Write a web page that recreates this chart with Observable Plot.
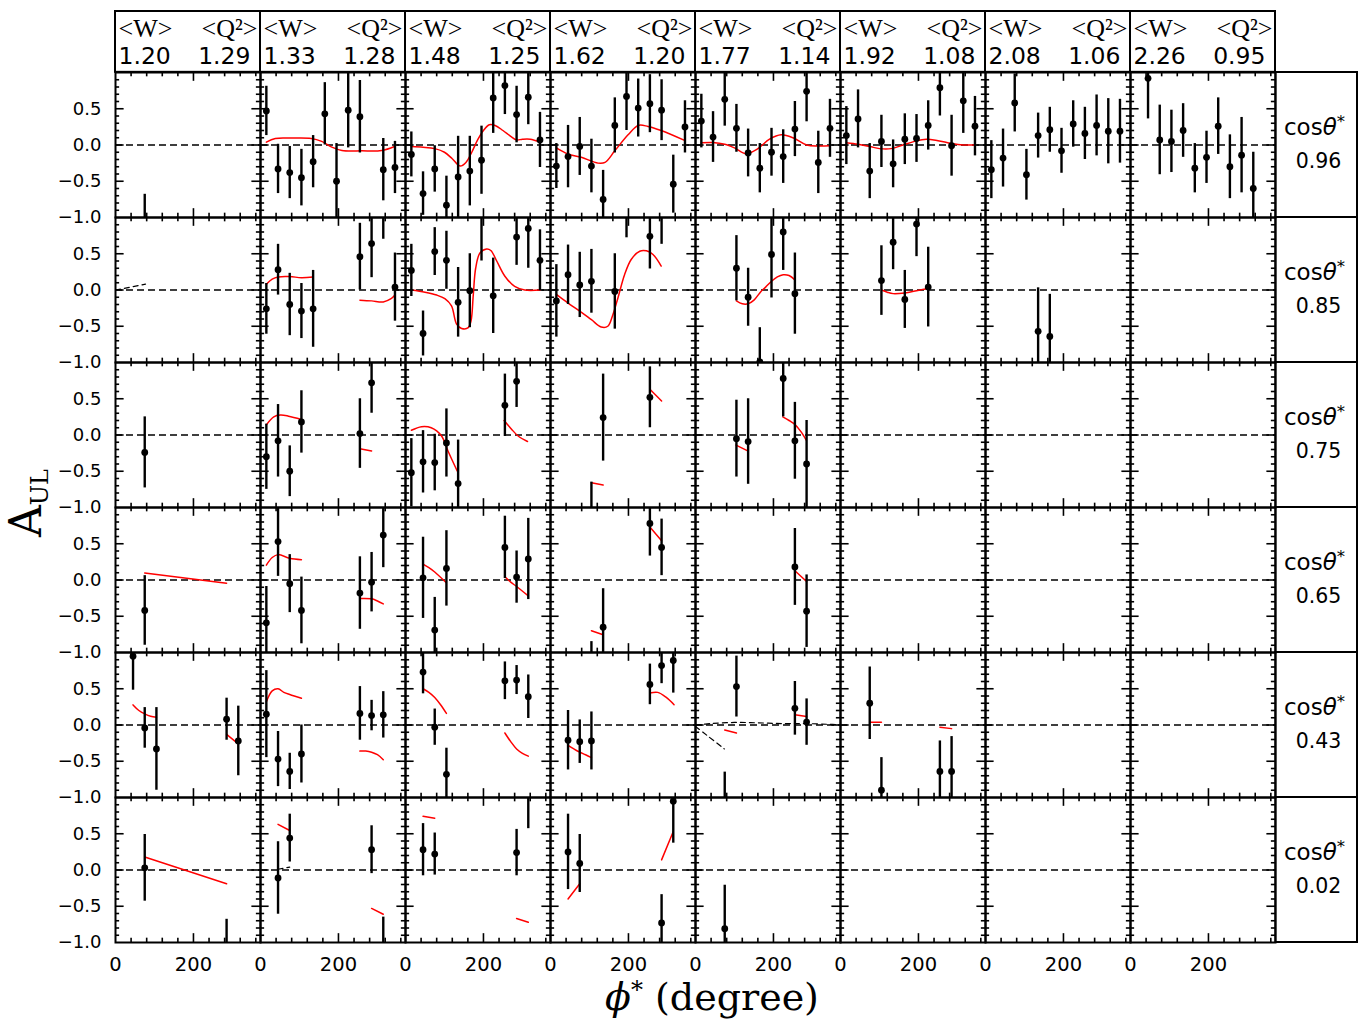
<!DOCTYPE html>
<html><head><meta charset="utf-8">
<script src="https://cdn.jsdelivr.net/npm/d3@7"></script>
<script src="https://cdn.jsdelivr.net/npm/@observablehq/plot@0.6"></script>
<style>html,body{margin:0;padding:0;background:#fff;overflow:hidden}</style>
</head><body><div id="chart"></div>
<script>
// ---- categories / labels ----
const W = ["1.20","1.33","1.48","1.62","1.77","1.92","2.08","2.26"];
const Q2 = ["1.29","1.28","1.25","1.20","1.14","1.08","1.06","0.95"];
const COS = ["0.96","0.85","0.75","0.65","0.43","0.02"];
const xTickLabels = [0, 200];
const yTickLabels = [-1, -0.5, 0, 0.5];
const xMajorTicks = [200];
const xMinorTicks = [40, 80, 120, 160, 240, 280, 320, 360];
const yMajorTicks = [-0.5, 0, 0.5];
const yMinorTicks = [-0.9,-0.8,-0.7,-0.6,-0.4,-0.3,-0.2,-0.1,0.1,0.2,0.3,0.4,0.6,0.7,0.8,0.9];

// ---- data points: [W column, phi*, A_UL, error] ----
const data_096 = [
 [0,75,-1.20,0.52],
 [1,15,0.47,0.34],[1,45,-0.33,0.34],[1,75,-0.38,0.36],[1,105,-0.45,0.39],[1,135,-0.23,0.36],[1,165,0.43,0.43],[1,195,-0.50,0.52],[1,225,0.48,0.52],[1,255,0.39,0.50],[1,315,-0.34,0.43],[1,345,-0.31,0.36],
 [2,15,-0.13,0.31],[2,45,-0.67,0.30],[2,75,-0.33,0.32],[2,105,-0.83,0.40],[2,135,-0.44,0.56],[2,165,-0.36,0.48],[2,195,-0.21,0.47],[2,225,0.65,0.49],[2,255,0.82,0.40],[2,285,0.42,0.39],[2,315,0.66,0.38],[2,345,0.07,0.38],
 [3,15,-0.29,0.31],[3,45,-0.16,0.43],[3,75,-0.02,0.40],[3,105,-0.29,0.37],[3,135,-0.75,0.40],[3,165,0.27,0.38],[3,195,0.67,0.47],[3,225,0.51,0.40],[3,255,0.57,0.40],[3,285,0.48,0.42],[3,315,-0.54,0.40],[3,345,0.25,0.36],
 [4,15,0.33,0.37],[4,45,0.11,0.35],[4,75,0.63,0.37],[4,105,0.23,0.33],[4,135,-0.11,0.33],[4,165,-0.32,0.34],[4,195,-0.10,0.33],[4,225,-0.16,0.37],[4,255,0.22,0.38],[4,285,0.74,0.42],[4,315,-0.24,0.43],[4,345,0.23,0.40],
 [5,15,0.13,0.40],[5,45,0.36,0.40],[5,75,-0.36,0.38],[5,105,0.05,0.36],[5,135,-0.26,0.33],[5,165,0.08,0.35],[5,195,0.09,0.33],[5,225,0.27,0.34],[5,255,0.79,0.39],[5,285,-0.01,0.42],[5,315,0.61,0.45],[5,345,0.26,0.41],
 [6,15,-0.34,0.40],[6,45,-0.18,0.40],[6,75,0.58,0.40],[6,105,-0.41,0.35],[6,135,0.13,0.31],[6,165,0.21,0.31],[6,195,-0.08,0.31],[6,225,0.29,0.32],[6,255,0.16,0.36],[6,285,0.27,0.42],[6,315,0.19,0.45],[6,345,0.19,0.44],
 [7,45,0.92,0.56],[7,75,0.07,0.48],[7,105,0.05,0.43],[7,135,0.20,0.37],[7,165,-0.32,0.34],[7,195,-0.17,0.36],[7,225,0.26,0.39],[7,255,-0.30,0.44],[7,285,-0.14,0.52],[7,315,-0.60,0.50]
];
const data_085 = [
 [1,15,-0.26,0.35],[1,45,0.28,0.35],[1,75,-0.20,0.43],[1,105,-0.29,0.38],[1,135,-0.26,0.53],[1,255,0.46,0.46],[1,285,0.64,0.47],[1,315,1.20,0.50],[1,345,0.04,0.47],
 [2,15,0.27,0.36],[2,45,-0.60,0.31],[2,75,0.53,0.33],[2,105,0.41,0.40],[2,135,-0.17,0.48],[2,165,-0.01,0.51],[2,195,1.05,0.65],[2,225,-0.08,0.52],[2,285,0.73,0.39],[2,315,0.85,0.55],[2,345,0.41,0.42],
 [3,15,-0.15,0.50],[3,45,0.21,0.41],[3,75,0.07,0.45],[3,105,0.12,0.44],[3,165,-0.02,0.52],[3,195,1.20,0.48],[3,255,0.74,0.45],[3,285,1.10,0.47],
 [4,105,0.30,0.45],[4,135,-0.10,0.40],[4,165,-0.99,0.47],[4,195,0.49,0.60],[4,225,0.80,0.53],[4,255,-0.05,0.56],
 [5,105,0.13,0.48],[5,135,0.66,0.38],[5,165,-0.13,0.40],[5,195,0.91,0.45],[5,225,0.04,0.55],
 [6,135,-0.57,0.60],[6,165,-0.64,0.58]
];
const data_075 = [
 [0,75,-0.24,0.49],
 [1,15,-0.30,0.45],[1,45,-0.08,0.50],[1,75,-0.50,0.35],[1,105,0.18,0.43],[1,255,0.02,0.48],[1,285,0.72,0.42],
 [2,15,-0.52,0.47],[2,45,-0.37,0.43],[2,75,-0.38,0.39],[2,105,-0.11,0.47],[2,135,-0.67,0.60],[2,255,0.41,0.43],[2,285,0.74,0.36],
 [3,105,-1.20,0.55],[3,135,0.24,0.60],[3,255,0.52,0.42],
 [4,105,-0.05,0.53],[4,135,-0.09,0.59],[4,225,0.78,0.53],[4,255,-0.08,0.53],[4,285,-0.40,0.60]
];
const data_065 = [
 [0,75,-0.42,0.48],
 [1,15,-0.59,0.50],[1,45,0.53,0.48],[1,75,-0.05,0.40],[1,105,-0.42,0.46],[1,255,-0.18,0.50],[1,285,-0.03,0.41],[1,315,0.62,0.45],
 [2,45,0.03,0.56],[2,75,-0.69,0.45],[2,105,0.16,0.52],[2,255,0.45,0.43],[2,285,0.04,0.36],[2,315,0.29,0.56],
 [3,105,-1.30,0.45],[3,135,-0.65,0.53],[3,255,0.78,0.45],[3,285,0.45,0.39],
 [4,255,0.18,0.53],[4,285,-0.43,0.50]
];
const data_043 = [
 [0,45,0.95,0.47],[0,75,-0.04,0.28],[0,105,-0.33,0.57],[0,285,0.08,0.29],[0,315,-0.22,0.48],
 [1,15,0.15,0.60],[1,45,-0.47,0.38],[1,75,-0.64,0.25],[1,105,-0.40,0.40],[1,255,0.16,0.37],[1,285,0.13,0.21],[1,315,0.14,0.32],
 [2,45,0.73,0.30],[2,75,-0.03,0.25],[2,105,-0.68,0.36],[2,255,0.61,0.26],[2,285,0.62,0.20],[2,315,0.39,0.30],
 [3,45,-0.21,0.41],[3,75,-0.23,0.30],[3,105,-0.22,0.40],[3,255,0.56,0.28],[3,285,0.82,0.25],[3,315,0.89,0.45],
 [4,75,-1.20,0.55],[4,105,0.53,0.42],[4,255,0.23,0.37],[4,285,0.04,0.32],
 [5,75,0.30,0.50],[5,105,-0.90,0.45],[5,255,-0.64,0.42],[5,285,-0.64,0.48]
];
const data_002 = [
 [0,75,0.03,0.46],[0,285,-1.20,0.52],
 [1,45,-0.11,0.50],[1,75,0.44,0.33],[1,285,0.28,0.33],[1,315,-1.15,0.50],
 [2,45,0.28,0.36],[2,75,0.22,0.29],[2,285,0.24,0.32],[2,315,1.05,0.48],
 [3,45,0.25,0.52],[3,75,0.09,0.40],[3,285,-0.73,0.39],[3,315,0.95,0.58],
 [4,75,-0.81,0.60]
];

// ---- model curves (red): [W column, [[phi*, A_UL], ...]] one entry per segment ----
const model_096 = [
 [1, [[15,0.04],[38,0.09],[80,0.095],[130,0.09],[157,0.05],[183,-0.03],[209,-0.075],[260,-0.08],[311,-0.075],[344,-0.02]]],
 [2, [[15,-0.02],[45,-0.03],[75,-0.05],[100,-0.1],[120,-0.19],[140,-0.29],[155,-0.24],[170,-0.1],[185,0.07],[200,0.2],[215,0.28],[230,0.27],[250,0.2],[270,0.12],[285,0.07],[300,0.08],[320,0.08],[345,0.04]]],
 [3, [[15,-0.04],[45,-0.125],[79,-0.17],[122,-0.25],[140,-0.24],[165,-0.08],[199,0.14],[225,0.27],[250,0.256],[284,0.2],[344,0.063]]],
 [4, [[15,0.03],[45,0.035],[75,0.01],[100,-0.04],[130,-0.12],[160,-0.05],[190,0.08],[220,0.14],[250,0.1],[285,0.0],[315,-0.015],[345,-0.01]]],
 [5, [[15,0.03],[45,0.01],[75,-0.02],[100,-0.05],[130,-0.05],[160,0.0],[190,0.05],[220,0.08],[250,0.06],[285,0.02],[315,0.0],[345,0.0]]]
];
const model_085 = [
 [1, [[15,0.08],[30,0.15],[45,0.18],[75,0.185],[105,0.17],[135,0.18]]],
 [1, [[255,-0.14],[285,-0.15],[315,-0.165],[335,-0.12],[345,-0.07]]],
 [2, [[15,0.0],[50,-0.03],[80,-0.07],[101,-0.12],[118,-0.22],[131,-0.47],[144,-0.53],[161,-0.52],[168,-0.43],[174,-0.06],[180,0.3],[191,0.51],[208,0.566],[219,0.545],[234,0.4],[255,0.19],[280,0.05],[306,0.0],[345,0.0]]],
 [3, [[15,-0.06],[45,-0.18],[75,-0.29],[105,-0.41],[130,-0.51],[147,-0.5],[160,-0.34],[173,-0.11],[190,0.21],[207,0.42],[229,0.535],[246,0.54],[263,0.49],[284,0.33]]],
 [4, [[105,-0.15],[120,-0.19],[135,-0.19],[150,-0.14],[168,-0.02],[180,0.04],[195,0.12],[210,0.18],[225,0.21],[240,0.2],[255,0.14]]],
 [5, [[105,0.0],[120,-0.03],[135,-0.05],[165,-0.04],[195,-0.01],[225,0.02]]]
];
const model_075 = [
 [1, [[15,0.14],[34,0.25],[51,0.275],[72,0.26],[105,0.215]]],
 [1, [[255,-0.19],[285,-0.22]]],
 [2, [[15,0.065],[41,0.115],[66,0.1],[92,-0.01],[109,-0.22],[133,-0.5]]],
 [2, [[253,0.2],[272,0.08],[289,-0.014],[313,-0.09]]],
 [3, [[105,-0.66],[135,-0.69]]],
 [3, [[255,0.63],[285,0.47]]],
 [4, [[104,-0.14],[134,-0.22]]],
 [4, [[224,0.25],[240,0.2],[254,0.15],[270,0.05],[284,-0.07]]]
];
const model_065 = [
 [0, [[75,0.095],[285,-0.045]]],
 [1, [[15,0.205],[30,0.31],[45,0.35],[75,0.3],[105,0.28]]],
 [1, [[255,-0.255],[285,-0.26],[300,-0.29],[315,-0.33]]],
 [2, [[45,0.22],[60,0.17],[75,0.11],[104,-0.035]]],
 [2, [[255,0.044],[270,-0.03],[285,-0.09],[315,-0.22]]],
 [3, [[105,-0.7],[135,-0.755]]],
 [3, [[255,0.73],[285,0.54]]],
 [4, [[255,0.127],[285,-0.02]]]
];
const model_043 = [
 [0, [[45,0.277],[60,0.2],[75,0.153],[90,0.12],[105,0.106]]],
 [0, [[285,-0.13],[315,-0.26]]],
 [1, [[15,0.32],[30,0.47],[45,0.5],[60,0.45],[75,0.42],[105,0.37]]],
 [1, [[255,-0.36],[270,-0.36],[285,-0.375],[300,-0.41],[315,-0.48]]],
 [2, [[45,0.5],[60,0.45],[75,0.38],[90,0.28],[105,0.16]]],
 [2, [[255,-0.11],[270,-0.23],[285,-0.33],[300,-0.39],[315,-0.43]]],
 [3, [[45,-0.28],[60,-0.33],[75,-0.375],[90,-0.41],[105,-0.45]]],
 [3, [[255,0.44],[275,0.45],[297,0.38],[317,0.28]]],
 [4, [[75,-0.07],[105,-0.11]]],
 [4, [[255,0.14],[285,0.116]]],
 [5, [[75,0.037],[105,0.037]]],
 [5, [[255,-0.03],[285,-0.05]]]
];
const model_002 = [
 [0, [[75,0.18],[285,-0.19]]],
 [1, [[45,0.63],[75,0.545]]],
 [1, [[285,-0.53],[315,-0.61]]],
 [2, [[45,0.74],[75,0.715]]],
 [2, [[285,-0.67],[315,-0.72]]],
 [3, [[45,-0.4],[75,-0.19]]],
 [3, [[285,0.14],[315,0.53]]]
];
// ---- black dashed curves: [cos row, W column, [[phi*, A_UL], ...]] ----
const dashed = [
 [1, 0, [[0,0.0],[77,0.08]]],
 [4, 4, [[0,0.0],[40,0.02],[100,0.035],[160,0.03],[220,0.02],[280,0.02],[340,0.01],[372,0.005]]],
 [4, 4, [[0,-0.02],[31,-0.15],[74,-0.33]]],
 [5, 1, [[45,0.01],[75,0.04]]]
];

// ---- tables ----
const rowsPts = [data_096, data_085, data_075, data_065, data_043, data_002];
const rowsModel = [model_096, model_085, model_075, model_065, model_043, model_002];
const points = rowsPts.flatMap((arr, row) => arr.map(([col, phi, A, err]) => ({row, col, phi, A, err})));
const model = rowsModel.flatMap((segs, row) => segs.flatMap(([col, pts], s) => pts.map(([phi, A]) => ({row, col, seg: `${row}-${col}-${s}`, phi, A}))));
const dash = dashed.flatMap(([row, col, pts], s) => pts.map(([phi, A]) => ({row, col, seg: s, phi, A})));
const cells = d3.cross(d3.range(W.length), d3.range(COS.length)).map(([col, row]) => ({col, row}));
const header = W.map((w, col) => ({col, row: 0, w, q: Q2[col]}));
const rightLab = COS.map((c, row) => ({col: W.length - 1, row, c}));
const yLab = d3.cross(d3.range(COS.length), yTickLabels).map(([row, v]) => ({row, col: 0, v}));
const xLab = d3.cross(d3.range(W.length), xTickLabels).map(([col, v]) => ({col, row: COS.length - 1, v}));

const width = 1364, height = 1019;
const mL = 113, mR = 88, mT = 71, mB = 77;
const fw = (width - mL - mR) / W.length;
const fh = (height - mT - mB) / COS.length;
const majorLen = 9, minorLen = 4.5;
const tickW = 1.6;
const fmt = d3.format(".1f");

const svg = Plot.plot({
  width, height,
  marginLeft: mL, marginRight: mR, marginTop: mT, marginBottom: mB,
  style: {fontFamily: "DejaVu Sans", background: "white", color: "black"},
  fx: {domain: d3.range(W.length), padding: 0, axis: null},
  fy: {domain: d3.range(COS.length), padding: 0, axis: null},
  x: {domain: [0, 372], axis: null},
  y: {domain: [-1, 1], axis: null},
  marks: [
    Plot.ruleY(cells, {fx: "col", fy: "row", y: () => 0, stroke: "black", strokeWidth: 1.3, strokeDasharray: "7,4"}),
    Plot.line(dash, {fx: "col", fy: "row", x: "phi", y: "A", z: "seg", stroke: "black", strokeWidth: 1.2, strokeDasharray: "5,4", curve: "catmull-rom", clip: true}),
    Plot.line(model, {fx: "col", fy: "row", x: "phi", y: "A", z: "seg", stroke: "#ff0000", strokeWidth: 1.5, curve: "catmull-rom", clip: true}),
    Plot.ruleX(points, {fx: "col", fy: "row", x: "phi", y1: d => d.A - d.err, y2: d => d.A + d.err, stroke: "black", strokeWidth: 2.4, clip: true}),
    Plot.dot(points, {fx: "col", fy: "row", x: "phi", y: "A", r: 3.4, fill: "black", stroke: null, clip: true}),
    // inward ticks on all four sides of each panel
    Plot.ruleX(xMajorTicks, {x: d => d, insetTop: fh - majorLen, strokeWidth: tickW}),
    Plot.ruleX(xMinorTicks, {x: d => d, insetTop: fh - minorLen, strokeWidth: tickW}),
    Plot.ruleX(xMajorTicks, {x: d => d, insetBottom: fh - majorLen, strokeWidth: tickW}),
    Plot.ruleX(xMinorTicks, {x: d => d, insetBottom: fh - minorLen, strokeWidth: tickW}),
    Plot.ruleY(yMajorTicks, {y: d => d, insetRight: fw - majorLen, strokeWidth: tickW}),
    Plot.ruleY(yMinorTicks, {y: d => d, insetRight: fw - minorLen, strokeWidth: tickW}),
    Plot.ruleY(yMajorTicks, {y: d => d, insetLeft: fw - majorLen, strokeWidth: tickW}),
    Plot.ruleY(yMinorTicks, {y: d => d, insetLeft: fw - minorLen, strokeWidth: tickW}),
    Plot.frame({stroke: "black", strokeWidth: 2}),
    // header boxes with <W>, <Q2>
    Plot.rect(header, {fx: "col", fy: "row", insetTop: -61, insetBottom: fh, fill: "none", stroke: "black", strokeWidth: 2}),
    Plot.text(header, {fx: "col", fy: "row", text: () => "<W>", frameAnchor: "top-left", textAnchor: "start", dx: 3, dy: -36, lineAnchor: "bottom", fontFamily: "Liberation Serif", fontSize: 26}),
    Plot.text(header, {fx: "col", fy: "row", text: () => "<Q²>", frameAnchor: "top-right", textAnchor: "end", dx: -3, dy: -36, lineAnchor: "bottom", fontFamily: "Liberation Serif", fontSize: 26}),
    Plot.text(header, {fx: "col", fy: "row", text: "w", frameAnchor: "top-left", textAnchor: "start", dx: 3, dy: -9, lineAnchor: "bottom", fontFamily: "DejaVu Sans", fontSize: 23.5}),
    Plot.text(header, {fx: "col", fy: "row", text: "q", frameAnchor: "top-right", textAnchor: "end", dx: -10, dy: -9, lineAnchor: "bottom", fontFamily: "DejaVu Sans", fontSize: 23.5}),
    // right-hand cos(theta*) boxes
    Plot.rect(rightLab, {fx: "col", fy: "row", insetLeft: fw, insetRight: -82, fill: "none", stroke: "black", strokeWidth: 2}),
    Plot.text(rightLab, {fx: "col", fy: "row", text: () => "cosθ*", frameAnchor: "top-right", textAnchor: "middle", dx: 39, dy: 55, lineAnchor: "middle", fontFamily: "DejaVu Sans", fontSize: 23}),
    Plot.text(rightLab, {fx: "col", fy: "row", text: "c", frameAnchor: "top-right", textAnchor: "middle", dx: 43, dy: 89, lineAnchor: "middle", fontFamily: "DejaVu Sans", fontSize: 20.5}),
    // tick labels
    Plot.text(yLab, {fx: "col", fy: "row", y: "v", text: d => fmt(d.v), frameAnchor: "left", textAnchor: "end", dx: -14, lineAnchor: "middle", fontSize: 18}),
    Plot.text(xLab, {fx: "col", fy: "row", x: "v", text: d => String(d.v), frameAnchor: "bottom", textAnchor: "middle", dy: 22, lineAnchor: "middle", fontSize: 19.5})
  ]
});

// rich text: italic theta with superscript star
d3.select(svg).selectAll("text").each(function() {
  if (this.textContent === "cosθ*") {
    const s = d3.select(this);
    s.text(null);
    s.append("tspan").text("cos");
    s.append("tspan").attr("font-style", "italic").text("θ");
    s.append("tspan").attr("font-size", "0.72em").attr("dy", "-0.5em").text("*");
  }
});
// axis titles
const g = d3.select(svg).append("g").attr("fill", "black");
const yl = g.append("text").attr("transform", "translate(41,503) rotate(-90)").attr("text-anchor", "middle")
  .attr("font-family", "DejaVu Serif").attr("font-size", 44);
yl.append("tspan").text("A");
yl.append("tspan").attr("font-size", 24).attr("dy", 7).text("UL");
const xl = g.append("text").attr("x", 712).attr("y", 1010).attr("text-anchor", "middle")
  .attr("font-family", "DejaVu Serif").attr("font-size", 38);
xl.append("tspan").attr("font-style", "italic").text("ϕ");
xl.append("tspan").attr("font-size", 24).attr("dy", -12).text("*");
xl.append("tspan").attr("dy", 12).text(" (degree)");

document.getElementById("chart").appendChild(svg);
</script>
</body></html>
